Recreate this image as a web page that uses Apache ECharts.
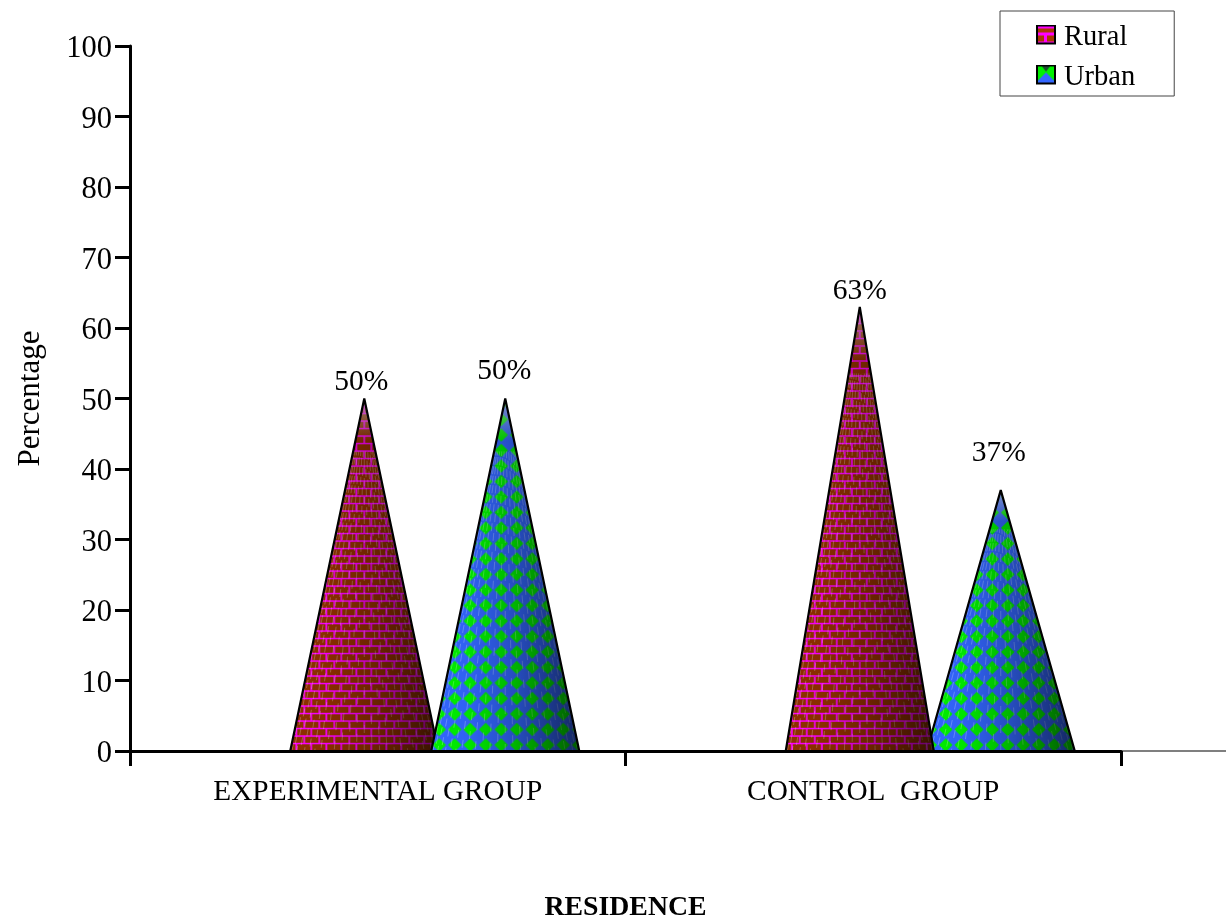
<!DOCTYPE html>
<html>
<head>
<meta charset="utf-8">
<title>Residence by group</title>
<style>
  html, body { margin: 0; padding: 0; background: #fff; }
  #chart { width: 1226px; height: 924px; }
</style>
<script src="https://cdn.jsdelivr.net/npm/echarts@6/dist/echarts.min.js"></script>
</head>
<body>
<div id="chart"></div>
<script>
// Values
const groups = ['EXPERIMENTAL GROUP', 'CONTROL  GROUP'];
const rural = [50, 63];
const urban = [50, 37];
const yMin = 0;
const yMax = 100;
const yStep = 10;

// Layout of the plot and labels
const FONT = '"Liberation Serif", "Times New Roman", serif';
const grid = { left: 130, right: 105, top: 46, bottom: 173 };
const pageWidth = 1226;
const pageHeight = 924;
const ruralLabelLift = [16, 16];
const urbanLabelLift = [27, 37];
const ruralLabelNudge = [-3, 0];
const urbanLabelNudge = [-1, -2];

// Cone placement, as fractions of a category band
const ruralShift = -0.0272;
const urbanShift = 0.2573;
const coneHalfWidth = 0.1494;

// Horizontal start of the diamond lattice relative to each urban apex
const diamondAnchor = [-4, 7];
const rad = Math.PI / 180;

// Repeating surface tiles
function brickTile() {
  const c = document.createElement('canvas');
  c.width = 30;
  c.height = 15;
  const g = c.getContext('2d');
  g.fillStyle = '#ff00ff';
  g.fillRect(0, 0, 30, 15);
  g.fillStyle = '#8f3000';
  g.fillRect(0.8, 0.8, 13.4, 6);
  g.fillRect(15.8, 0.8, 13.4, 6);
  g.fillRect(0, 8.3, 6.2, 6);
  g.fillRect(7.8, 8.3, 13.4, 6);
  g.fillRect(23, 8.3, 7, 6);
  return c;
}

function diamondTile() {
  const c = document.createElement('canvas');
  c.width = 31;
  c.height = 31;
  const g = c.getContext('2d');
  g.fillStyle = '#3366ff';
  g.fillRect(0, 0, 31, 31);
  g.fillStyle = '#00f000';
  [[7.75, 7.75], [23.25, 7.75], [7.75, 23.25], [23.25, 23.25]].forEach(function (p) {
    g.beginPath();
    g.moveTo(p[0] - 6.8, p[1]);
    g.lineTo(p[0], p[1] - 6.8);
    g.lineTo(p[0] + 6.8, p[1]);
    g.lineTo(p[0], p[1] + 6.8);
    g.closePath();
    g.fill();
  });
  return c;
}

const bricks = brickTile();
const diamonds = diamondTile();

function brickFill(cx, baseY) {
  return { image: bricks, repeat: 'repeat', x: cx, y: baseY };
}

function diamondFill(cx, baseY, idx) {
  return {
    image: diamonds, repeat: 'repeat',
    x: cx + diamondAnchor[idx] - 7.75,
    y: baseY - 6 - 7.75
  };
}

// Faint dashed seams that fan out from the apex
function seamLines(cx, baseY, apexY, halfW, z2) {
  const out = [];
  const reach = 0.85;
  for (let a = -84; a <= 84; a += 6) {
    const x0 = cx + halfW * Math.sin(a * rad);
    out.push({
      type: 'line', silent: true, z2,
      shape: {
        x1: x0, y1: baseY,
        x2: x0 + (cx - x0) * reach, y2: baseY + (apexY - baseY) * reach
      },
      style: {
        stroke: 'rgba(255,255,255,0.26)', lineWidth: 1,
        lineDash: [8, 11], lineDashOffset: (a + 90) * 1.7
      }
    });
  }
  return out;
}

function coneRenderer(shift, fillFn, lifts, nudges, layerOf) {
  return function (params, api) {
    const idx = api.value(0);
    const val = api.value(1);
    const band = api.size([1, 0])[0];
    const top = api.coord([idx, val]);
    const base = api.coord([idx, 0]);
    const cx = top[0] + shift * band;
    const halfW = coneHalfWidth * band;
    const layer = layerOf(idx) * 10;
    const outline = [[cx - halfW, base[1]], [cx, top[1]], [cx + halfW, base[1]]];
    const children = [
      {
        type: 'polygon', silent: true, z2: layer,
        shape: { points: outline },
        style: { fill: fillFn(cx, base[1], idx) }
      }
    ].concat(seamLines(cx, base[1], top[1], halfW, layer + 1), [
      {
        // Side lighting across the cone
        type: 'polygon', silent: true, z2: layer + 2,
        shape: { points: outline },
        style: {
          fill: {
            type: 'linear', x: 0, y: 0, x2: 1, y2: 0,
            colorStops: [
              { offset: 0, color: 'rgba(0,0,0,0)' },
              { offset: 0.25, color: 'rgba(0,0,0,0.05)' },
              { offset: 0.55, color: 'rgba(0,0,0,0.24)' },
              { offset: 1, color: 'rgba(0,0,0,0.62)' }
            ]
          }
        }
      },
      {
        // The tip washes out slightly
        type: 'polygon', silent: true, z2: layer + 3,
        shape: { points: outline },
        style: {
          fill: {
            type: 'linear', x: 0, y: 0, x2: 0, y2: 1,
            colorStops: [
              { offset: 0, color: 'rgba(200,200,200,0.55)' },
              { offset: 0.12, color: 'rgba(200,200,200,0)' },
              { offset: 1, color: 'rgba(200,200,200,0)' }
            ]
          }
        }
      },
      {
        type: 'polyline', silent: true, z2: layer + 4,
        shape: { points: outline },
        style: { fill: 'none', stroke: '#000', lineWidth: 2.2, lineJoin: 'bevel' }
      },
      {
        type: 'text', silent: true, z2: 60,
        x: cx + nudges[idx], y: top[1] - lifts[idx],
        style: {
          text: val + '%', font: '29.5px ' + FONT, fill: '#000',
          align: 'center', verticalAlign: 'middle'
        }
      }
    ]);
    return { type: 'group', children };
  };
}

// Small swatches shown in the legend; the lower strip stays clear so the square
// sits level with the legend text
function swatch(paint) {
  const c = document.createElement('canvas');
  c.width = 20;
  c.height = 26;
  const g = c.getContext('2d');
  paint(g);
  g.strokeStyle = '#000';
  g.lineWidth = 2;
  g.strokeRect(1, 1, 18, 18);
  return 'image://' + c.toDataURL();
}
const ruralIcon = swatch(function (g) {
  g.fillStyle = '#ff00ff';
  g.fillRect(0, 0, 20, 20);
  g.fillStyle = '#a83800';
  g.fillRect(2, 4, 16, 4);
  g.fillRect(2, 11, 6, 6);
  g.fillRect(11, 11, 7, 6);
});
const urbanIcon = swatch(function (g) {
  g.fillStyle = '#00f000';
  g.fillRect(0, 0, 20, 20);
  g.fillStyle = '#3366ff';
  g.beginPath();
  g.moveTo(10, 8);
  g.lineTo(18, 16);
  g.lineTo(18, 20);
  g.lineTo(2, 20);
  g.lineTo(2, 16);
  g.closePath();
  g.fill();
  g.fillStyle = '#1c4a30';
  g.beginPath();
  g.moveTo(6, 2);
  g.lineTo(14, 2);
  g.lineTo(10, 7);
  g.closePath();
  g.fill();
});

function seriesData(values) {
  return values.map(function (v, i) { return [i, v]; });
}

const chart = echarts.init(document.getElementById('chart'), null, { renderer: 'canvas' });
const axisY = pageHeight - grid.bottom;

chart.setOption({
  animation: false,
  backgroundColor: '#fff',
  textStyle: { fontFamily: FONT, color: '#000' },
  tooltip: { show: false },
  grid: {
    left: grid.left, right: grid.right, top: grid.top, bottom: grid.bottom,
    containLabel: false, outerBoundsMode: 'none'
  },
  legend: {
    left: 1000,
    top: 11,
    orient: 'vertical',
    selectedMode: false,
    padding: [12, 39, 4, 36],
    itemWidth: 20,
    itemHeight: 26,
    itemGap: 11,
    borderColor: '#444',
    borderWidth: 1,
    textStyle: { fontFamily: FONT, fontSize: 28.5, color: '#000', padding: [0, 0, 0, 3] },
    data: [
      { name: 'Rural', icon: ruralIcon },
      { name: 'Urban', icon: urbanIcon }
    ]
  },
  xAxis: {
    type: 'category',
    data: groups,
    z: 5,
    boundaryGap: true,
    name: 'RESIDENCE',
    nameLocation: 'middle',
    nameGap: 143,
    nameTextStyle: { fontFamily: FONT, fontSize: 27.8, fontWeight: 'bold', color: '#000' },
    axisLine: { lineStyle: { color: '#000', width: 3 } },
    axisTick: { show: true, length: 15, alignWithLabel: false, lineStyle: { color: '#000', width: 3 } },
    axisLabel: { fontFamily: FONT, fontSize: 29.3, color: '#000', margin: 27, interval: 0 }
  },
  yAxis: {
    type: 'value',
    min: yMin,
    max: yMax,
    interval: yStep,
    z: 5,
    name: 'Percentage',
    nameLocation: 'middle',
    nameGap: 84,
    nameTextStyle: { fontFamily: FONT, fontSize: 31, color: '#000' },
    splitLine: { show: false },
    axisLine: { show: true, lineStyle: { color: '#000', width: 3 } },
    axisTick: { show: true, length: 15, lineStyle: { color: '#000', width: 3 } },
    axisLabel: {
      color: '#000',
      margin: 18,
      formatter: '{t|{value}}',
      rich: {
        t: { fontFamily: FONT, fontSize: 30.5, color: '#000', padding: [6, 0, 0, 0] }
      }
    }
  },
  graphic: [{
    type: 'line',
    silent: true,
    shape: { x1: pageWidth - grid.right, y1: axisY, x2: pageWidth, y2: axisY },
    style: { stroke: '#555', lineWidth: 1.5 }
  }],
  series: [
    {
      type: 'custom',
      name: 'Rural',
      data: seriesData(rural),
      clip: false,
      encode: { x: 0, y: 1 },
      itemStyle: { color: '#983200' },
      renderItem: coneRenderer(ruralShift, brickFill, ruralLabelLift, ruralLabelNudge,
        function (i) { return i === 0 ? 0 : 1; })
    },
    {
      type: 'custom',
      name: 'Urban',
      data: seriesData(urban),
      clip: false,
      encode: { x: 0, y: 1 },
      itemStyle: { color: '#3366ff' },
      renderItem: coneRenderer(urbanShift, diamondFill, urbanLabelLift, urbanLabelNudge,
        function (i) { return i === 0 ? 1 : 0; })
    }
  ]
});
</script>
</body>
</html>
